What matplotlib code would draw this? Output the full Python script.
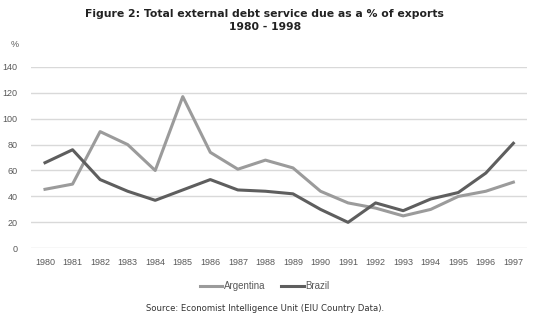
import matplotlib.pyplot as plt

# data
years = ['1980', '1981', '1982', '1983', '1984', '1985', '1986', '1987', '1988',
         '1989', '1990', '1991', '1992', '1993', '1994', '1995', '1996', '1997']
argentina = [45.5, 49.5, 90, 80, 60, 117, 74, 61, 68, 62, 44, 35, 31, 25, 30, 40, 44, 51]
brazil = [66, 76, 53, 44, 37, 45, 53, 45, 44, 42, 30, 20, 35, 29, 38, 43, 58, 81]
yticks = [0, 20, 40, 60, 80, 100, 120, 140]

plt.rcParams['font.family'] = ['Liberation Sans', 'DejaVu Sans']

fig = plt.figure(figsize=(5.33, 3.21), dpi=100)
ax = fig.add_axes([0.0586, 0.2265, 0.9304, 0.5655])

x = list(range(len(years)))
ax.plot(x, argentina, color='#9b9b9b', lw=2.2, label='Argentina', solid_joinstyle='round')
ax.plot(x, brazil, color='#5e5e5e', lw=2.2, label='Brazil', solid_joinstyle='round')

ax.set_xlim(-0.5, len(years) - 0.5)
ax.set_ylim(0, 140)
ax.set_yticks(yticks)
ax.set_xticks(x)
ax.set_xticklabels(years)
ax.tick_params(axis='both', length=0, labelsize=6.5, colors='#595959')
ax.tick_params(axis='x', pad=7)
ax.tick_params(axis='y', pad=10)
ax.grid(axis='y', color='#d9d9d9', lw=1)
ax.set_axisbelow(True)
for s in ax.spines.values():
    s.set_visible(False)

fig.text(0.02, 0.855, '%', fontsize=6.5, color='#595959')
fig.text(0.497, 0.936, 'Figure 2: Total external debt service due as a % of exports\n1980 - 1998',
         ha='center', va='center', fontsize=7.8, fontweight='bold', color='#222222',
         linespacing=1.3, family=['DejaVu Sans'])

fig.legend(loc='center', bbox_to_anchor=(0.497, 0.108), ncol=2, frameon=False,
           fontsize=7, handlelength=2.3, handletextpad=0.2, columnspacing=1.6,
           labelcolor='#595959')
fig.text(0.497, 0.04, 'Source: Economist Intelligence Unit (EIU Country Data).',
         ha='center', va='center', fontsize=6.1, color='#333333',
         family=['DejaVu Sans'])

fig.savefig('out.png', dpi=100)
